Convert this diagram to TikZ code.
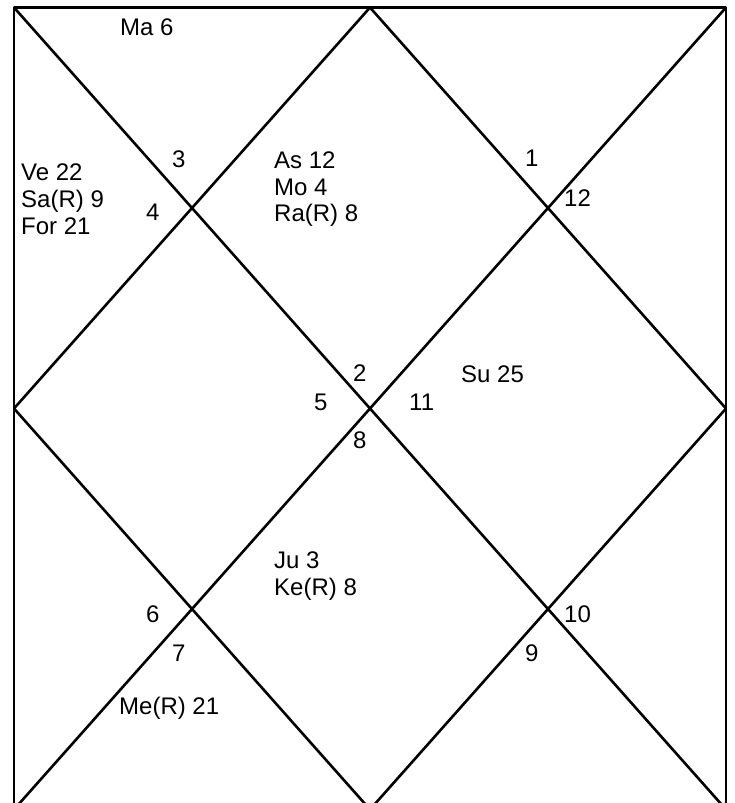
\documentclass[tikz,border=0pt]{standalone}
\usepackage{fontspec}
\setmainfont{Liberation Sans}
\begin{document}
\begin{tikzpicture}[x=1pt,y=-1pt,
  chartline/.style={line width=2.6pt, line join=round},
  lbl/.style={anchor=base west, inner sep=0pt, font=\fontsize{24}{26.7}\selectfont}]
\useasboundingbox (0,0) rectangle (735,803);
\clip (0,0) rectangle (735,803);
\fill[white] (0,0) rectangle (735,803);
\coordinate (TL) at (14,7.5);
\coordinate (TR) at (726,7.5);
\coordinate (BL) at (14,809.5);
\coordinate (BR) at (726,809.5);
\coordinate (T) at (370,7.5);
\coordinate (L) at (14,408.5);
\coordinate (R) at (726,408.5);
\coordinate (B) at (370,809.5);
\draw[chartline] (TL) rectangle (BR);
\draw[chartline] (TL) -- (BR);
\draw[chartline] (TR) -- (BL);
\draw[chartline] (T) -- (L) -- (B) -- (R) -- cycle;
% planets
\node[lbl] (ma) at (120,35) {Ma 6};
\node[lbl] (ve) at (21,180.7) {Ve 22};
\node[lbl] (sa) at (21,207.4) {Sa(R) 9};
\node[lbl] (fo) at (21,234.1) {For 21};
\node[lbl] (as) at (274,168.3) {As 12};
\node[lbl] (mo) at (274,195) {Mo 4};
\node[lbl] (ra) at (274,221.7) {Ra(R) 8};
\node[lbl] (su) at (461,382.7) {Su 25};
\node[lbl] (ju) at (274,568.3) {Ju 3};
\node[lbl] (ke) at (274,595) {Ke(R) 8};
\node[lbl] (me) at (119,714) {Me(R) 21};
% house numbers
\node[lbl] (h1) at (525,166.7) {1};
\node[lbl] (h2) at (353,381.7) {2};
\node[lbl] (h3) at (172,167) {3};
\node[lbl] (h4) at (146,220) {4};
\node[lbl] (h5) at (314,410) {5};
\node[lbl] (h6) at (146,622.3) {6};
\node[lbl] (h7) at (172,661.7) {7};
\node[lbl] (h8) at (353,448.3) {8};
\node[lbl] (h9) at (525,661.7) {9};
\node[lbl] (h10) at (564,622.3) {10};
\node[lbl] (h11) at (409,410) {11};
\node[lbl] (h12) at (564,206.7) {12};
\end{tikzpicture}
\end{document}
